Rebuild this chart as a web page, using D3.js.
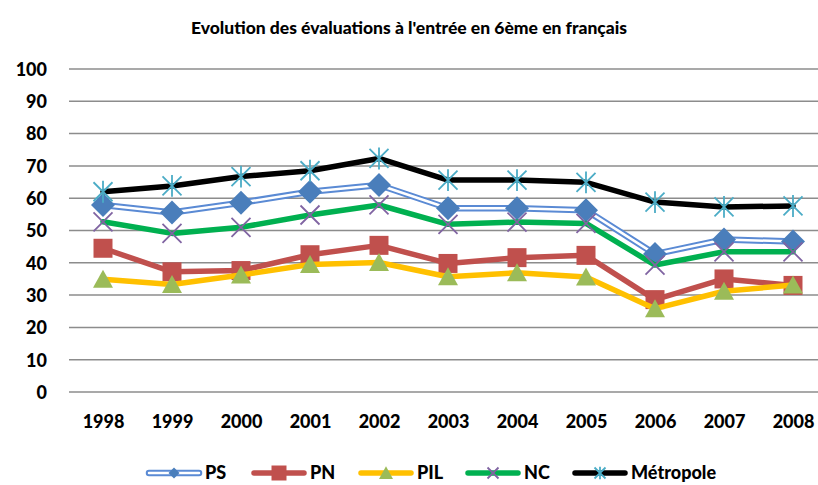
<!DOCTYPE html>
<html><head><meta charset="utf-8">
<script src="https://cdn.jsdelivr.net/npm/d3@7"></script>
<style>body{margin:0;background:#fff}svg{display:block}</style>
</head><body>
<svg id="c" width="818" height="485"></svg>
<script>
const years = ["1998","1999","2000","2001","2002","2003","2004","2005","2006","2007","2008"];
const yTicks = [0,10,20,30,40,50,60,70,80,90,100];
const psValues = [57.9,55.6,58.6,62.0,64.1,56.9,56.9,56.3,42.7,47.2,46.6];
const pnValues = [44.5,37.2,37.6,42.5,45.4,39.8,41.6,42.3,28.6,35.0,33.0];
const pilValues = [34.9,33.3,36.2,39.5,40.1,35.7,36.9,35.6,25.8,31.2,33.1];
const ncValues = [52.7,49.1,51.0,54.8,57.9,51.9,52.6,52.2,39.3,43.4,43.4];
const metroValues = [62.0,63.8,66.7,68.5,72.3,65.6,65.6,64.9,58.8,57.3,57.6];
const seriesNames = ["PS","PN","PIL","NC","Métropole"];

const series = [
  {name:seriesNames[0], values:psValues, color:"#5a8ad4", marker:"diamond", mfill:"#4a7ebb"},
  {name:seriesNames[1], values:pnValues, color:"#c0504d", marker:"square", mfill:"#c0504d"},
  {name:seriesNames[2], values:pilValues, color:"#ffc000", marker:"triangle", mfill:"#9bbb59"},
  {name:seriesNames[3], values:ncValues, color:"#00b050", marker:"x", mfill:"#8064a2"},
  {name:seriesNames[4], values:metroValues, color:"#000000", marker:"star", mfill:"#4bacc6"}
];

const svg = d3.select("#c");
const font = "Lato, 'Open Sans', sans-serif";
const x = d3.scalePoint().domain(years).range([103, 793]);
const y = d3.scaleLinear().domain([0,100]).range([392, 69]);

svg.append("text").attr("x",409).attr("y",28).attr("dy","0.35em").attr("text-anchor","middle")
  .attr("font-family",font).attr("font-weight","900").attr("font-size",17.5).attr("fill","#000")
  .text("Evolution des évaluations à l'entrée en 6ème en français");

// gridlines
svg.append("g").selectAll("line").data(yTicks).join("line")
  .attr("x1",69).attr("x2",818).attr("y1",d=>y(d)).attr("y2",d=>y(d))
  .attr("stroke","#8c8c8c").attr("stroke-width",1.5);

// y axis labels
const yAxis = d3.axisLeft(y).tickValues(yTicks).tickSize(0).tickPadding(0);
const gy = svg.append("g").attr("transform","translate(47,0)").call(yAxis);
gy.select(".domain").remove();
gy.selectAll("text").attr("font-family",font).attr("font-weight","900").attr("font-size",18).attr("fill","#000").attr("dy","0.35em");

// x axis labels
const xAxis = d3.axisBottom(x).tickSize(0).tickPadding(0);
const gx = svg.append("g").attr("transform","translate(0,415)").call(xAxis);
gx.select(".domain").remove();
gx.selectAll("text").attr("font-family",font).attr("font-weight","900").attr("font-size",18).attr("fill","#000").attr("dy","0.71em");

function markerPath(type, s){
  const h = s/2;
  switch(type){
    case "diamond": return `M0,${-h}L${h},0L0,${h}L${-h},0Z`;
    case "square": return `M${-h},${-h}H${h}V${h}H${-h}Z`;
    case "triangle": return `M0,${-h*0.95}L${h},${h*0.85}L${-h},${h*0.85}Z`;
    case "x": return `M${-h},${-h}L${h},${h}M${h},${-h}L${-h},${h}`;
    case "star": return `M${-h},${-h}L${h},${h}M${h},${-h}L${-h},${h}M0,${-h*1.15}V${h*1.15}`;
  }
}
const msize = {diamond:24,square:19,triangle:20,x:19,star:19};
const lsize = {diamond:11,square:15,triangle:14,x:11,star:11};

function drawLine(g, s, pts){
  const line = d3.line().x(d=>d[0]).y(d=>d[1]);
  if(s.marker==="diamond"){
    g.append("path").attr("d",line(pts)).attr("fill","none").attr("stroke",s.color).attr("stroke-width",6.5).attr("stroke-linejoin","round").attr("stroke-linecap","round");
    g.append("path").attr("d",line(pts)).attr("fill","none").attr("stroke","#fff").attr("stroke-width",2.5).attr("stroke-linejoin","round").attr("stroke-linecap","round");
  } else {
    g.append("path").attr("d",line(pts)).attr("fill","none").attr("stroke",s.color).attr("stroke-width",5.5).attr("stroke-linejoin","round").attr("stroke-linecap","round");
  }
}
function drawMarker(g, s, cx, cy, size){
  const p = g.append("path").attr("d",markerPath(s.marker,size)).attr("transform",`translate(${cx},${cy})`);
  if(s.marker==="x"||s.marker==="star") p.attr("fill","none").attr("stroke",s.mfill).attr("stroke-width",1.8);
  else p.attr("fill",s.mfill);
}

series.forEach(s=>{
  const g = svg.append("g");
  const pts = s.values.map((v,i)=>[x(years[i]), y(v)]);
  drawLine(g, s, pts);
  pts.forEach(p=>drawMarker(g, s, p[0], p[1], msize[s.marker]));
});

// legend
const legX = [146,251,358,465,572];
const leg = svg.append("g");
series.forEach((s,i)=>{
  const g = leg.append("g");
  const x0 = legX[i], x1 = x0+56, ly = 473;
  drawLine(g, s, [[x0+3,ly],[x1-3,ly]]);
  drawMarker(g, s, (x0+x1)/2, ly, lsize[s.marker]);
  g.append("text").attr("x",x1+3).attr("y",ly).attr("dy","0.35em")
    .attr("font-family",font).attr("font-weight","900").attr("font-size",18).attr("fill","#000").text(s.name);
});
</script>
</body></html>
